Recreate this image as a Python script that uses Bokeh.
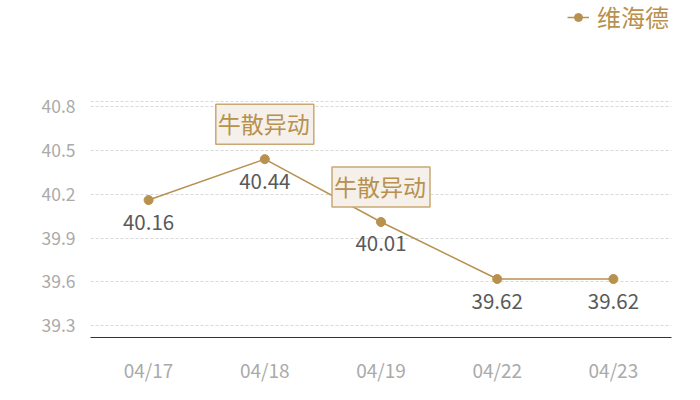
from bokeh.plotting import figure
from bokeh.models import Range1d, FixedTicker, Span, Legend, LegendItem, ColumnDataSource
from bokeh.core.properties import value
from bokeh.embed import file_html
from bokeh.resources import INLINE

dates = ["04/17", "04/18", "04/19", "04/22", "04/23"]
prices = [40.16, 40.44, 40.01, 39.62, 39.62]
price_labels = ["40.16", "40.44", "40.01", "39.62", "39.62"]
annot_dates = ["04/18", "04/19"]
annot_values = [40.44, 40.01]
annot_texts = ["牛散异动", "牛散异动"]
y_ticks = [39.3, 39.6, 39.9, 40.2, 40.5, 40.8]
series_name = "维海德"

GOLD = "#b8914f"
FONT = "Noto Sans CJK SC"

# frame spans the full height so the legend (top right) is not clipped
p = figure(width=700, height=400, x_range=dates, y_range=Range1d(39.22, 41.525),
           output_backend="svg", toolbar_location=None,
           min_border_left=90, min_border_right=29, min_border_top=0, min_border_bottom=63)
p.outline_line_color = None
p.background_fill_color = "white"

p.xgrid.grid_line_color = None
p.ygrid.grid_line_color = "#d8d8d8"
p.ygrid.grid_line_dash = "3 2"
p.ygrid.grid_line_width = 1

p.yaxis.ticker = FixedTicker(ticks=y_ticks)
p.yaxis.axis_line_color = None
p.yaxis.major_tick_line_color = None
p.yaxis.minor_tick_line_color = None
p.yaxis.major_label_text_color = "#aaaaaa"
p.yaxis.major_label_text_font = FONT
p.yaxis.major_label_text_font_size = "17.5px"
p.yaxis.major_label_standoff = 9

p.xaxis.axis_line_color = "#333333"
p.xaxis.axis_line_width = 1
p.xaxis.major_tick_line_color = None
p.xaxis.minor_tick_line_color = None
p.xaxis.major_label_text_color = "#aaaaaa"
p.xaxis.major_label_text_font = FONT
p.xaxis.major_label_text_font_size = "19px"
p.xaxis.major_label_standoff = 12

p.add_layout(Span(location=40.834, dimension="width", line_color="#d8d8d8", line_dash="3 2", line_width=1))

src = ColumnDataSource(dict(x=dates, y=prices, lab=price_labels))
ln = p.line("x", "y", source=src, line_color=GOLD, line_width=1.5)
sc = p.scatter("x", "y", source=src, size=9, fill_color=GOLD, line_color=GOLD)
p.text("x", "y", text="lab", source=src, y_offset=22, text_align="center", text_baseline="middle",
       text_color="#595959", text_font=value(FONT), text_font_size="20.5px")

asrc = ColumnDataSource(dict(x=annot_dates, y=annot_values, t=annot_texts))
p.text("x", "y", text="t", source=asrc, y_offset=-35, text_align="center", text_baseline="middle",
       text_color=GOLD, text_font=value(FONT), text_font_size="23px",
       background_fill_color="#f5f0e9", border_line_color="#c9a874", border_line_width=1.5,
       padding=(2, 4, 2, 4))

legend = Legend(items=[LegendItem(label=series_name, renderers=[ln, sc])],
                location=(477, 303), orientation="horizontal",
                label_text_color=GOLD, label_text_font=FONT, label_text_font_size="24px",
                glyph_width=22, glyph_height=20, border_line_color=None, background_fill_alpha=0,
                padding=2, margin=0, spacing=0, label_standoff=8)
p.add_layout(legend, "center")

open("out.html", "w").write(file_html(p, INLINE))
